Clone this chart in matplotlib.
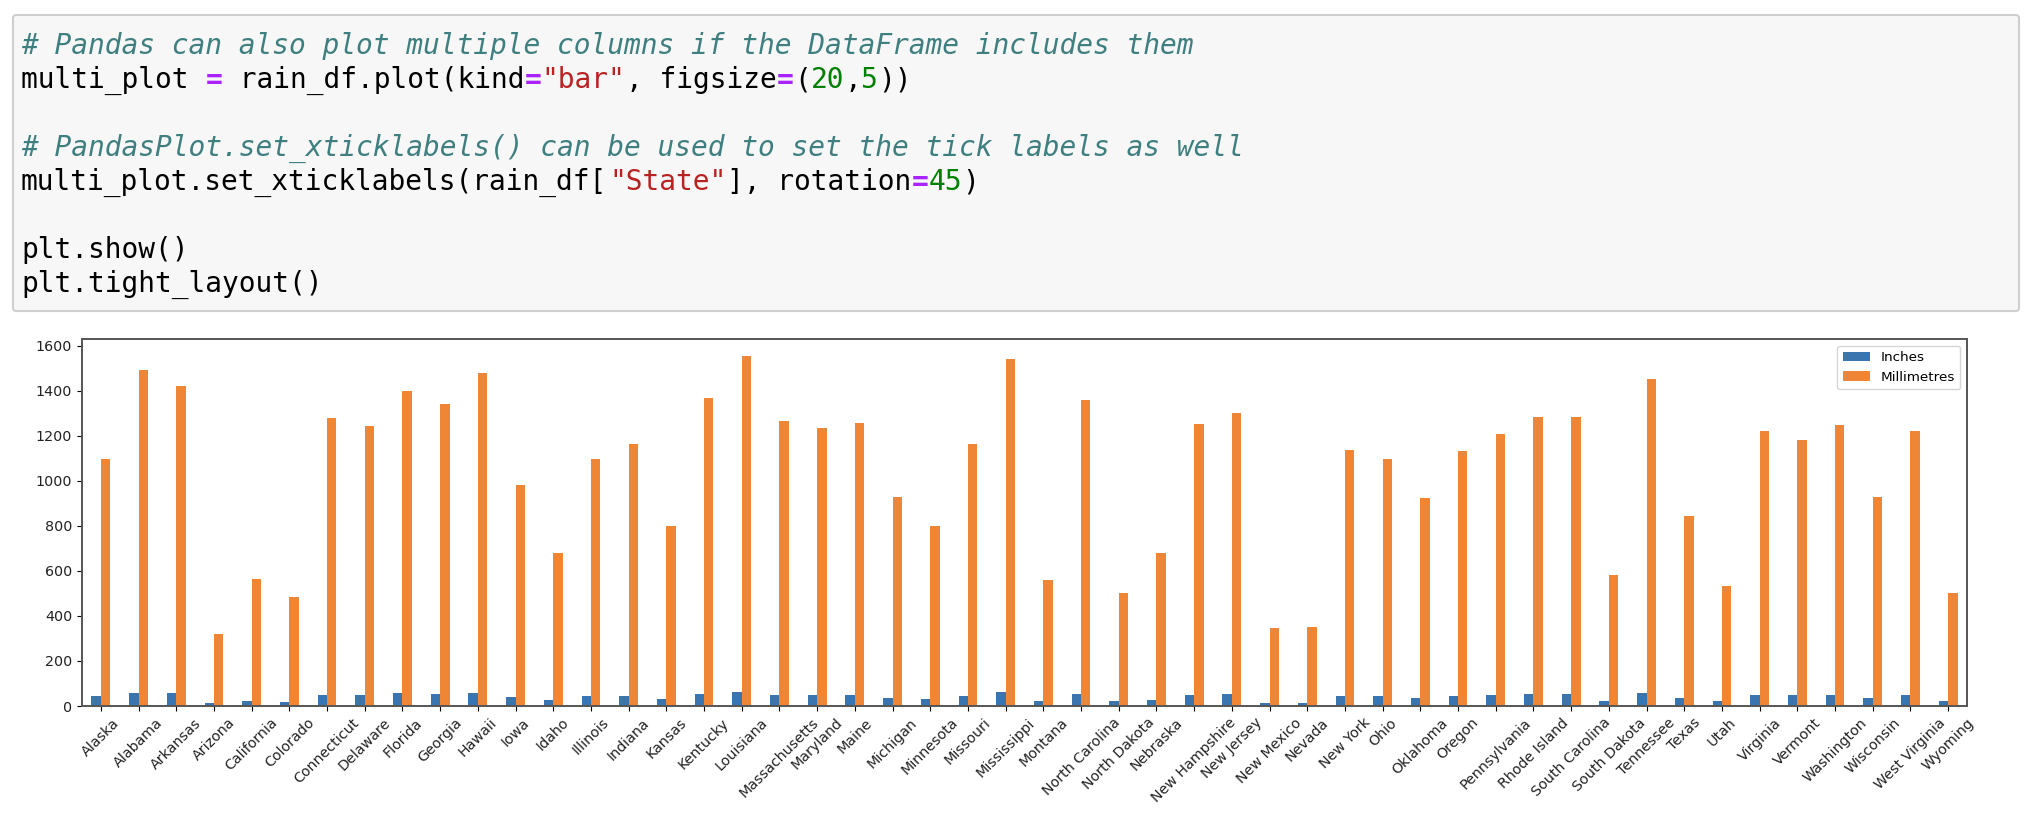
import numpy as np
import matplotlib.pyplot as plt
from matplotlib.patches import FancyBboxPatch

# States in the order they appear in the dataframe
states = ["Alaska", "Alabama", "Arkansas", "Arizona", "California", "Colorado",
          "Connecticut", "Delaware", "Florida", "Georgia", "Hawaii", "Iowa",
          "Idaho", "Illinois", "Indiana", "Kansas", "Kentucky", "Louisiana",
          "Massachusetts", "Maryland", "Maine", "Michigan", "Minnesota",
          "Missouri", "Mississippi", "Montana", "North Carolina", "North Dakota",
          "Nebraska", "New Hampshire", "New Jersey", "New Mexico", "Nevada",
          "New York", "Ohio", "Oklahoma", "Oregon", "Pennsylvania",
          "Rhode Island", "South Carolina", "South Dakota", "Tennessee", "Texas",
          "Utah", "Virginia", "Vermont", "Washington", "Wisconsin",
          "West Virginia", "Wyoming"]

# Rainfall
inches = [43, 59, 56, 12, 23, 19, 50, 50, 56, 55, 59, 39,
          28, 43, 46, 33, 55, 61, 50, 50, 50, 37, 33,
          46, 61, 23, 55, 20, 27, 50, 52, 14, 14,
          46, 43, 37, 46, 47, 52, 52, 24, 59, 34,
          21, 47, 47, 50, 37, 50, 20]
millimetres = [1099, 1495, 1424, 321, 564, 483, 1280, 1246, 1401, 1341, 1480, 984,
               681, 1096, 1164, 800, 1367, 1553, 1268, 1233, 1259, 927, 799,
               1163, 1544, 559, 1359, 502, 680, 1253, 1304, 348, 353,
               1139, 1096, 926, 1132, 1209, 1286, 1283, 584, 1455, 846,
               532, 1222, 1182, 1247, 929, 1224, 502]

# Notebook cell text: (text, colour, weight, style)
COMMENT = "#3f7f7f"
OP = "#aa22ff"
STR = "#ba2121"
NUM = "#008000"
code_lines = [
    (54, [("# Pandas can also plot multiple columns if the DataFrame includes them", COMMENT, "normal", "italic")]),
    (88, [("multi_plot ", "black", "normal", "normal"), ("=", OP, "bold", "normal"),
          (" rain_df.plot(kind", "black", "normal", "normal"), ("=", OP, "bold", "normal"),
          ('"bar"', STR, "normal", "normal"), (", figsize", "black", "normal", "normal"),
          ("=", OP, "bold", "normal"), ("(", "black", "normal", "normal"),
          ("20", NUM, "normal", "normal"), (",", "black", "normal", "normal"),
          ("5", NUM, "normal", "normal"), ("))", "black", "normal", "normal")]),
    (156, [("# PandasPlot.set_xticklabels() can be used to set the tick labels as well", COMMENT, "normal", "italic")]),
    (190, [("multi_plot.set_xticklabels(rain_df[", "black", "normal", "normal"),
           ('"State"', STR, "normal", "normal"), ("], rotation", "black", "normal", "normal"),
           ("=", OP, "bold", "normal"), ("45", NUM, "normal", "normal"),
           (")", "black", "normal", "normal")]),
    (258, [("plt.show()", "black", "normal", "normal")]),
    (292, [("plt.tight_layout()", "black", "normal", "normal")]),
]

W, H = 2033, 824
fig = plt.figure(figsize=(W / 100, H / 100), dpi=100)

# overlay in pixel coordinates for the code cell
bg = fig.add_axes([0, 0, 1, 1])
bg.set_xlim(0, W)
bg.set_ylim(H, 0)
bg.axis("off")
box = FancyBboxPatch((13, 15), 2006, 296, boxstyle="round,pad=0,rounding_size=3",
                     facecolor="#f7f7f7", edgecolor="#cfcfcf", linewidth=1.5)
bg.add_patch(box)

x0 = 21
cw = 16.8
for y, tokens in code_lines:
    col = 0
    for txt, color, weight, style in tokens:
        bg.text(x0 + col * cw, y, txt, color=color, fontweight=weight, fontstyle=style,
                family="DejaVu Sans Mono", fontsize=20.1, va="baseline", ha="left")
        col += len(txt)

# the bar chart
ax = fig.add_axes([82 / W, 1 - 706 / H, (1967 - 82) / W, (706 - 339) / H])
x = np.arange(len(states))
ax.bar(x - 0.125, inches, 0.25, color="#3a75b0", label="Inches")
ax.bar(x + 0.125, millimetres, 0.25, color="#ef8636", label="Millimetres")
ax.set_xlim(-0.5, len(states) - 0.5)
ax.set_xticks(x)
ax.set_xticklabels(states, rotation=45, fontsize=10.3, color="#222222")
ax.tick_params(axis="y", labelsize=10.3, labelcolor="#222222")
for s in ax.spines.values():
    s.set_color("#555555")
    s.set_linewidth(1.4)
ax.legend(loc="upper right", fontsize=9.7)

fig.savefig("out.png", dpi=100)
